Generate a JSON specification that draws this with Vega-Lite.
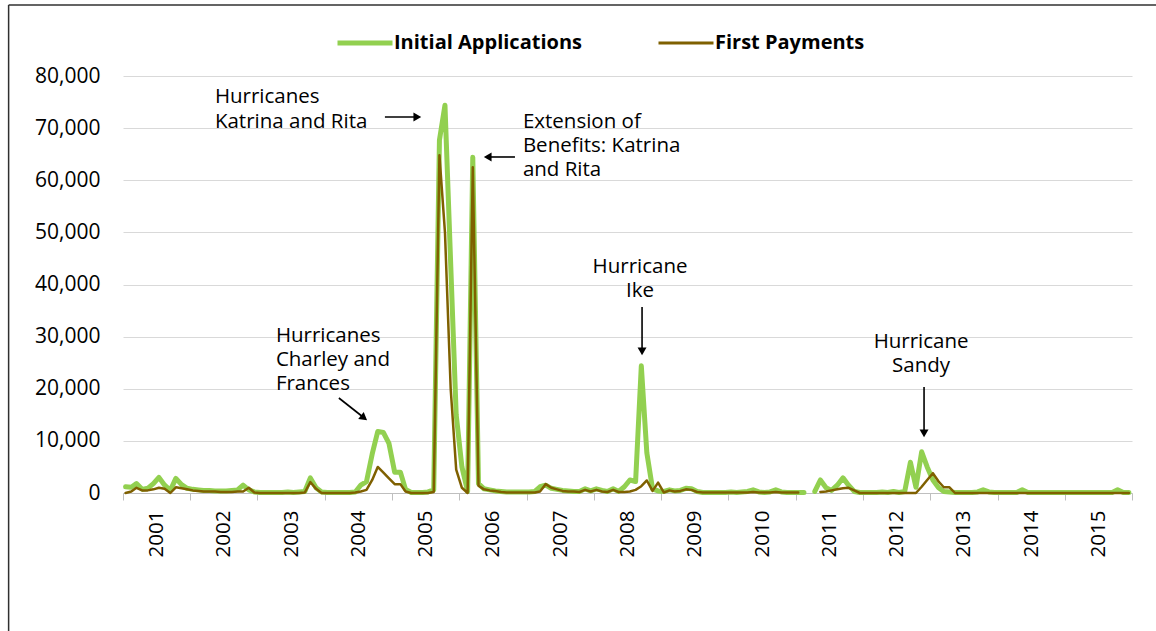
{
  "$schema": "https://vega.github.io/schema/vega-lite/v6.json",
  "width": 1009,
  "height": 417,
  "autosize": {"type": "none"},
  "padding": {"left": 123, "top": 76, "right": 24, "bottom": 138},
  "background": "white",
  "config": {
    "view": {"stroke": null},
    "font": "Open Sans",
    "axis": {"labelFont": "Open Sans", "labelColor": "#000000"},
    "legend": {"labelFont": "Open Sans"}
  },
  "datasets": {
    "main": [
      {"d":"2001-01-15","a":1200,"p":0},{"d":"2001-02-15","a":1100,"p":300},{"d":"2001-03-15","a":1800,"p":1000},{"d":"2001-04-15","a":700,"p":500},{"d":"2001-05-15","a":900,"p":500},{"d":"2001-06-15","a":1800,"p":700},{"d":"2001-07-15","a":3000,"p":1000},{"d":"2001-08-15","a":1500,"p":800},{"d":"2001-09-15","a":500,"p":0},{"d":"2001-10-15","a":2800,"p":1100},{"d":"2001-11-15","a":1600,"p":900},{"d":"2001-12-15","a":900,"p":700},
      {"d":"2002-01-15","a":700,"p":500},{"d":"2002-02-15","a":600,"p":400},{"d":"2002-03-15","a":500,"p":300},{"d":"2002-04-15","a":500,"p":300},{"d":"2002-05-15","a":400,"p":300},{"d":"2002-06-15","a":400,"p":200},{"d":"2002-07-15","a":400,"p":200},{"d":"2002-08-15","a":500,"p":200},{"d":"2002-09-15","a":600,"p":300},{"d":"2002-10-15","a":1500,"p":300},{"d":"2002-11-15","a":600,"p":1000},{"d":"2002-12-15","a":200,"p":100},
      {"d":"2003-01-15","a":100,"p":0},{"d":"2003-02-15","a":100,"p":0},{"d":"2003-03-15","a":100,"p":0},{"d":"2003-04-15","a":100,"p":0},{"d":"2003-05-15","a":100,"p":0},{"d":"2003-06-15","a":200,"p":0},{"d":"2003-07-15","a":100,"p":0},{"d":"2003-08-15","a":200,"p":0},{"d":"2003-09-15","a":300,"p":100},{"d":"2003-10-15","a":2900,"p":2100},{"d":"2003-11-15","a":1000,"p":800},{"d":"2003-12-15","a":200,"p":0},
      {"d":"2004-01-15","a":100,"p":0},{"d":"2004-02-15","a":100,"p":0},{"d":"2004-03-15","a":100,"p":0},{"d":"2004-04-15","a":100,"p":0},{"d":"2004-05-15","a":100,"p":0},{"d":"2004-06-15","a":200,"p":100},{"d":"2004-07-15","a":1500,"p":300},{"d":"2004-08-15","a":2200,"p":600},{"d":"2004-09-15","a":7500,"p":2500},{"d":"2004-10-15","a":11800,"p":5000},{"d":"2004-11-15","a":11600,"p":3900},{"d":"2004-12-15","a":9500,"p":2800},
      {"d":"2005-01-15","a":4000,"p":1700},{"d":"2005-02-15","a":4000,"p":1700},{"d":"2005-03-15","a":700,"p":300},{"d":"2005-04-15","a":100,"p":0},{"d":"2005-05-15","a":100,"p":0},{"d":"2005-06-15","a":100,"p":0},{"d":"2005-07-15","a":200,"p":0},{"d":"2005-08-15","a":600,"p":200},{"d":"2005-09-15","a":67700,"p":64800},{"d":"2005-10-15","a":74400,"p":50000},{"d":"2005-11-15","a":44000,"p":20000},{"d":"2005-12-15","a":15000,"p":4500},
      {"d":"2006-01-15","a":5000,"p":1000},{"d":"2006-02-15","a":300,"p":0},{"d":"2006-03-15","a":64400,"p":62500},{"d":"2006-04-15","a":1800,"p":1400},{"d":"2006-05-15","a":800,"p":700},{"d":"2006-06-15","a":600,"p":500},{"d":"2006-07-15","a":400,"p":400},{"d":"2006-08-15","a":300,"p":200},{"d":"2006-09-15","a":200,"p":100},{"d":"2006-10-15","a":200,"p":100},{"d":"2006-11-15","a":200,"p":100},{"d":"2006-12-15","a":200,"p":100},
      {"d":"2007-01-15","a":200,"p":100},{"d":"2007-02-15","a":300,"p":100},{"d":"2007-03-15","a":1200,"p":300},{"d":"2007-04-15","a":1500,"p":1700},{"d":"2007-05-15","a":900,"p":1000},{"d":"2007-06-15","a":700,"p":700},{"d":"2007-07-15","a":500,"p":400},{"d":"2007-08-15","a":400,"p":300},{"d":"2007-09-15","a":300,"p":300},{"d":"2007-10-15","a":300,"p":200},{"d":"2007-11-15","a":800,"p":600},{"d":"2007-12-15","a":400,"p":300},
      {"d":"2008-01-15","a":800,"p":600},{"d":"2008-02-15","a":500,"p":300},{"d":"2008-03-15","a":300,"p":200},{"d":"2008-04-15","a":800,"p":600},{"d":"2008-05-15","a":300,"p":200},{"d":"2008-06-15","a":1200,"p":200},{"d":"2008-07-15","a":2500,"p":300},{"d":"2008-08-15","a":2200,"p":600},{"d":"2008-09-15","a":24400,"p":1300},{"d":"2008-10-15","a":7700,"p":2400},{"d":"2008-11-15","a":800,"p":400},{"d":"2008-12-15","a":400,"p":2000},
      {"d":"2009-01-15","a":300,"p":100},{"d":"2009-02-15","a":600,"p":500},{"d":"2009-03-15","a":400,"p":300},{"d":"2009-04-15","a":500,"p":400},{"d":"2009-05-15","a":900,"p":700},{"d":"2009-06-15","a":800,"p":600},{"d":"2009-07-15","a":300,"p":200},{"d":"2009-08-15","a":100,"p":100},{"d":"2009-09-15","a":100,"p":100},{"d":"2009-10-15","a":100,"p":100},{"d":"2009-11-15","a":100,"p":100},{"d":"2009-12-15","a":100,"p":100},
      {"d":"2010-01-15","a":200,"p":100},{"d":"2010-02-15","a":100,"p":100},{"d":"2010-03-15","a":200,"p":100},{"d":"2010-04-15","a":300,"p":100},{"d":"2010-05-15","a":600,"p":200},{"d":"2010-06-15","a":200,"p":100},{"d":"2010-07-15","a":100,"p":100},{"d":"2010-08-15","a":200,"p":100},{"d":"2010-09-15","a":600,"p":200},{"d":"2010-10-15","a":200,"p":100},{"d":"2010-11-15","a":100,"p":100},{"d":"2010-12-15","a":100,"p":100},
      {"d":"2011-01-15","a":100,"p":100},{"d":"2011-02-15","a":100,"p":null},{"d":"2011-03-15","a":null,"p":null},{"d":"2011-04-15","a":300,"p":null},{"d":"2011-05-15","a":2500,"p":200},{"d":"2011-06-15","a":1000,"p":300},{"d":"2011-07-15","a":500,"p":500},{"d":"2011-08-15","a":1500,"p":700},{"d":"2011-09-15","a":2900,"p":900},{"d":"2011-10-15","a":1500,"p":1000},{"d":"2011-11-15","a":300,"p":500},{"d":"2011-12-15","a":100,"p":0},
      {"d":"2012-01-15","a":100,"p":0},{"d":"2012-02-15","a":100,"p":0},{"d":"2012-03-15","a":100,"p":0},{"d":"2012-04-15","a":200,"p":0},{"d":"2012-05-15","a":100,"p":0},{"d":"2012-06-15","a":300,"p":0},{"d":"2012-07-15","a":100,"p":0},{"d":"2012-08-15","a":300,"p":0},{"d":"2012-09-15","a":5900,"p":0},{"d":"2012-10-15","a":1100,"p":0},{"d":"2012-11-15","a":7900,"p":1200},{"d":"2012-12-15","a":5000,"p":2500},
      {"d":"2013-01-15","a":2500,"p":3800},{"d":"2013-02-15","a":1000,"p":2200},{"d":"2013-03-15","a":300,"p":1100},{"d":"2013-04-15","a":200,"p":1100},{"d":"2013-05-15","a":100,"p":0},{"d":"2013-06-15","a":100,"p":0},{"d":"2013-07-15","a":100,"p":0},{"d":"2013-08-15","a":100,"p":0},{"d":"2013-09-15","a":200,"p":0},{"d":"2013-10-15","a":600,"p":0},{"d":"2013-11-15","a":200,"p":0},{"d":"2013-12-15","a":100,"p":0},
      {"d":"2014-01-15","a":100,"p":0},{"d":"2014-02-15","a":100,"p":0},{"d":"2014-03-15","a":100,"p":0},{"d":"2014-04-15","a":100,"p":0},{"d":"2014-05-15","a":600,"p":0},{"d":"2014-06-15","a":100,"p":0},{"d":"2014-07-15","a":100,"p":0},{"d":"2014-08-15","a":100,"p":0},{"d":"2014-09-15","a":100,"p":0},{"d":"2014-10-15","a":100,"p":0},{"d":"2014-11-15","a":100,"p":0},{"d":"2014-12-15","a":100,"p":0},
      {"d":"2015-01-15","a":100,"p":0},{"d":"2015-02-15","a":100,"p":0},{"d":"2015-03-15","a":100,"p":0},{"d":"2015-04-15","a":100,"p":0},{"d":"2015-05-15","a":100,"p":0},{"d":"2015-06-15","a":100,"p":0},{"d":"2015-07-15","a":100,"p":0},{"d":"2015-08-15","a":100,"p":0},{"d":"2015-09-15","a":100,"p":0},{"d":"2015-10-15","a":600,"p":0},{"d":"2015-11-15","a":100,"p":0},{"d":"2015-12-15","a":100,"p":0}
    ],
    "notesLeft": [
      {"d":"2002-05-15","v":74820,"label":"Hurricanes"},
      {"d":"2002-05-15","v":70025,"label":"Katrina and Rita"},
      {"d":"2006-12-12","v":70025,"label":"Extension of"},
      {"d":"2006-12-12","v":65420,"label":"Benefits: Katrina"},
      {"d":"2006-12-12","v":60815,"label":"and Rita"},
      {"d":"2003-04-11","v":28970,"label":"Hurricanes"},
      {"d":"2003-04-11","v":24365,"label":"Charley and"},
      {"d":"2003-04-11","v":19760,"label":"Frances"}
    ],
    "notesCenter": [
      {"d":"2008-09-08","v":42207,"label":"Hurricane"},
      {"d":"2008-09-08","v":37603,"label":"Ike"},
      {"d":"2012-11-12","v":27818,"label":"Hurricane"},
      {"d":"2012-11-12","v":23214,"label":"Sandy"}
    ],
    "arrows": [
      {"d":"2004-11-23","v":72136,"d2":"2005-05-11","v2":72136},
      {"d":"2006-10-30","v":64462,"d2":"2006-06-11","v2":64462},
      {"d":"2004-03-18","v":18226,"d2":"2004-07-27","v2":14581},
      {"d":"2008-09-19","v":35684,"d2":"2008-09-19","v2":27435},
      {"d":"2012-11-28","v":20336,"d2":"2012-11-28","v2":11703}
    ],
    "heads": [
      {"d":"2005-05-11","v":72136,"angle":90},
      {"d":"2006-06-11","v":64462,"angle":270},
      {"d":"2004-07-27","v":14581,"angle":128},
      {"d":"2008-09-19","v":27435,"angle":180},
      {"d":"2012-11-28","v":11703,"angle":180}
    ],
    "frame": [
      {"d":"1999-04-21","v":93623,"d2":"1999-04-21","v2":-27000},
      {"d":"1999-04-21","v":93623,"d2":"2016-06-01","v2":93623}
    ]
  },
  "layer": [
    {
      "data": {"name": "main"},
      "mark": {"type": "line", "invalid": "break-paths-show-domains", "strokeCap": "round", "strokeJoin": "round"},
      "encoding": {
        "x": {
          "field": "d", "type": "temporal",
          "scale": {"domain": [{"year": 2001, "month": 1, "date": 1}, {"year": 2016, "month": 1, "date": 1}]},
          "axis": {
            "title": null,
            "values": [{"year":2001,"month":1,"date":1},{"year":2002,"month":1,"date":1},{"year":2003,"month":1,"date":1},{"year":2004,"month":1,"date":1},{"year":2005,"month":1,"date":1},{"year":2006,"month":1,"date":1},{"year":2007,"month":1,"date":1},{"year":2008,"month":1,"date":1},{"year":2009,"month":1,"date":1},{"year":2010,"month":1,"date":1},{"year":2011,"month":1,"date":1},{"year":2012,"month":1,"date":1},{"year":2013,"month":1,"date":1},{"year":2014,"month":1,"date":1},{"year":2015,"month":1,"date":1},{"year":2016,"month":1,"date":1}],
            "labelExpr": "year(datum.value) >= 2016 ? '' : timeFormat(datum.value, '%Y')",
            "labelAngle": 270,
            "labelOffset": 33.6,
            "labelFlush": false,
            "labelOverlap": false,
            "labelFontSize": 20.5,
            "labelPadding": 10,
            "ticks": true,
            "tickSize": 7,
            "tickColor": "#bfbfbf",
            "domainColor": "#bfbfbf",
            "domainWidth": 1,
            "grid": false
          }
        },
        "y": {
          "field": "a", "type": "quantitative",
          "scale": {"domain": [0, 80000], "nice": false},
          "axis": {
            "title": null,
            "values": [0, 10000, 20000, 30000, 40000, 50000, 60000, 70000, 80000],
            "format": ",d",
            "grid": true,
            "gridColor": "#d9d9d9",
            "gridWidth": 1,
            "domain": false,
            "ticks": false,
            "labelPadding": 23,
            "labelFontSize": 21
          }
        },
        "color": {
          "datum": "Initial Applications",
          "type": "nominal",
          "scale": {"domain": ["Initial Applications", "First Payments"], "range": ["#92D050", "#7F6000"]},
          "legend": {
            "title": null,
            "orient": "none",
            "legendX": 232,
            "legendY": -43,
            "direction": "horizontal",
            "symbolType": "stroke",
            "symbolSize": 3025,
            "labelFontSize": 20,
            "labelFontWeight": "bold",
            "labelColor": "#000000",
            "labelLimit": 400,
            "labelOffset": 19,
            "columnPadding": 70,
            "encode": {
              "symbols": {
                "update": {
                  "strokeWidth": {"signal": "datum.value === 'Initial Applications' ? 5 : 3"}
                }
              }
            }
          }
        },
        "strokeWidth": {
          "datum": "Initial Applications",
          "type": "nominal",
          "scale": {"type": "ordinal", "domain": ["Initial Applications", "First Payments"], "range": [5, 3]},
          "legend": null
        }
      }
    },
    {
      "data": {"name": "main"},
      "mark": {"type": "line", "invalid": "break-paths-show-domains", "strokeCap": "round", "strokeJoin": "round"},
      "encoding": {
        "x": {"field": "d", "type": "temporal"},
        "y": {"field": "p", "type": "quantitative"},
        "color": {"datum": "First Payments", "type": "nominal"},
        "strokeWidth": {"datum": "First Payments", "type": "nominal", "legend": null}
      }
    },
    {
      "data": {"name": "frame"},
      "mark": {"type": "rule", "color": "#303030", "strokeWidth": 1.5},
      "encoding": {
        "x": {"field": "d", "type": "temporal"},
        "y": {"field": "v", "type": "quantitative"},
        "x2": {"field": "d2"},
        "y2": {"field": "v2"}
      }
    },
    {
      "data": {"name": "arrows"},
      "mark": {"type": "rule", "color": "#000000", "strokeWidth": 1.6},
      "encoding": {
        "x": {"field": "d", "type": "temporal"},
        "y": {"field": "v", "type": "quantitative"},
        "x2": {"field": "d2"},
        "y2": {"field": "v2"}
      }
    },
    {
      "data": {"name": "heads"},
      "mark": {"type": "point", "shape": "triangle", "filled": true, "color": "#000000", "size": 80, "opacity": 1},
      "encoding": {
        "x": {"field": "d", "type": "temporal"},
        "y": {"field": "v", "type": "quantitative"},
        "angle": {"field": "angle", "type": "quantitative", "scale": null}
      }
    },
    {
      "data": {"name": "notesLeft"},
      "mark": {"type": "text", "align": "left", "baseline": "alphabetic", "font": "Open Sans", "fontSize": 20.5, "color": "#000000"},
      "encoding": {
        "x": {"field": "d", "type": "temporal"},
        "y": {"field": "v", "type": "quantitative"},
        "text": {"field": "label"}
      }
    },
    {
      "data": {"name": "notesCenter"},
      "mark": {"type": "text", "align": "center", "baseline": "alphabetic", "font": "Open Sans", "fontSize": 20.5, "color": "#000000"},
      "encoding": {
        "x": {"field": "d", "type": "temporal"},
        "y": {"field": "v", "type": "quantitative"},
        "text": {"field": "label"}
      }
    }
  ]
}
